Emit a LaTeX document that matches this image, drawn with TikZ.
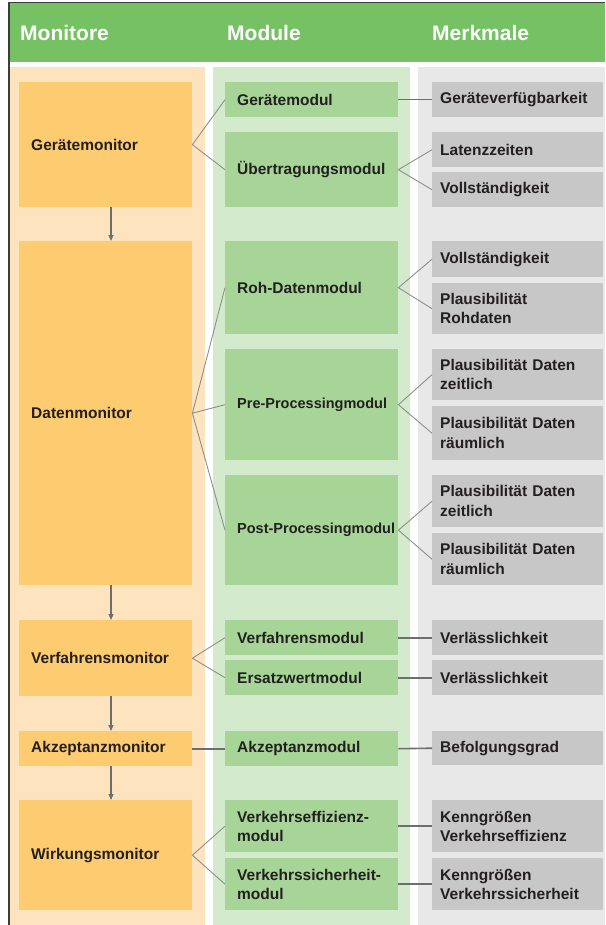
\documentclass[tikz,border=0pt]{standalone}
\usepackage{fontspec}
\setmainfont{Liberation Sans}
\usetikzlibrary{arrows.meta}

\definecolor{headgreen}{HTML}{75C163}
\definecolor{monbg}{HTML}{FDE4BF}
\definecolor{monbox}{HTML}{FDCB70}
\definecolor{modbg}{HTML}{D3EBCC}
\definecolor{modbox}{HTML}{A7D598}
\definecolor{mkbg}{HTML}{E8E8E8}
\definecolor{mkbox}{HTML}{C7C7C7}
\definecolor{txt}{HTML}{231F20}
\definecolor{frame}{HTML}{3C3C3C}
\definecolor{linkgray}{HTML}{8E8E8E}
\definecolor{bargray}{HTML}{6E6E6E}

\tikzset{
  box/.style={anchor=north west, inner xsep=12pt, inner ysep=0pt,
    font=\bfseries\fontsize{15.5}{19.5}\selectfont, text=txt, align=left},
  mon/.style={box, fill=monbox, text width=149pt},
  mod/.style={box, fill=modbox, text width=149pt},
  mk/.style={box, fill=mkbox, inner xsep=8pt, text width=155pt},
  tight/.style={font=\bfseries\fontsize{14.5}{19.5}\selectfont},
  head/.style={anchor=west, inner sep=0pt, text=white,
    font=\bfseries\fontsize{21}{25}\selectfont},
  branch/.style={draw=linkgray, line width=0.9pt},
  bar/.style={draw=bargray, line width=1.6pt},
  flow/.style={draw=bargray, line width=1.1pt, -{Triangle[length=6pt,width=5pt]}}
}

\begin{document}
\begin{tikzpicture}[x=1pt,y=-1pt]
\useasboundingbox (0,0) rectangle (605,925);

% header band and column backgrounds
\fill[headgreen] (9,3) rectangle (605,62);
\fill[monbg] (9,67) rectangle (205,925);
\fill[modbg] (213,67) rectangle (410,925);
\fill[mkbg] (418,67) rectangle (605,925);
\draw[frame, line width=1.5pt] (8.75,925) -- (8.75,2.75) -- (605,2.75);

\node[head] (h1) at (20,33) {Monitore};
\node[head] (h2) at (227,33) {Module};
\node[head] (h3) at (432,33) {Merkmale};

% monitors
\node[mon, minimum height=125pt] (gm) at (19,82) {Gerätemonitor};
\node[mon, minimum height=344pt] (dm) at (19,241) {Datenmonitor};
\node[mon, minimum height=76pt]  (vm) at (19,620) {Verfahrensmonitor};
\node[mon, minimum height=35pt]  (am) at (19,731) {Akzeptanzmonitor};
\node[mon, minimum height=110pt] (wm) at (19,800) {Wirkungsmonitor};

% modules
\node[mod, minimum height=35pt]  (m1) at (225,82)  {Gerätemodul};
\node[mod, minimum height=75pt]  (m2) at (225,132) {Übertragungsmodul};
\node[mod, minimum height=93pt]  (m3) at (225,241) {Roh-Datenmodul};
\node[mod, tight, minimum height=111pt] (m4) at (225,349) {\mbox{Pre-Processingmodul}};
\node[mod, tight, minimum height=110pt] (m5) at (225,475) {\mbox{Post-Processingmodul}};
\node[mod, minimum height=35pt]  (m6) at (225,620) {Verfahrensmodul};
\node[mod, minimum height=35pt]  (m7) at (225,660) {Ersatzwertmodul};
\node[mod, minimum height=35pt]  (m8) at (225,731) {Akzeptanzmodul};
\node[mod, minimum height=52pt]  (m9) at (225,800) {Verkehrseffizienz-\\modul};
\node[mod, minimum height=52pt]  (m10) at (225,858) {Verkehrssicherheit-\\modul};

% features
\node[mk, minimum height=35pt] (k1)  at (432,82)  {Geräteverfügbarkeit};
\node[mk, minimum height=35pt] (k2)  at (432,132) {Latenzzeiten};
\node[mk, minimum height=35pt] (k3)  at (432,172) {Vollständigkeit};
\node[mk, minimum height=36pt] (k4)  at (432,241) {Vollständigkeit};
\node[mk, minimum height=51pt] (k5)  at (432,283) {Plausibilität\\Rohdaten};
\node[mk, minimum height=51pt] (k6)  at (432,349) {Plausibilität Daten\\zeitlich};
\node[mk, minimum height=54pt] (k7)  at (432,406) {Plausibilität Daten\\räumlich};
\node[mk, minimum height=52pt] (k8)  at (432,475) {Plausibilität Daten\\zeitlich};
\node[mk, minimum height=52pt] (k9)  at (432,533) {Plausibilität Daten\\räumlich};
\node[mk, minimum height=35pt] (k10) at (432,620) {Verlässlichkeit};
\node[mk, minimum height=35pt] (k11) at (432,660) {Verlässlichkeit};
\node[mk, minimum height=34pt] (k12) at (432,731) {Befolgungsgrad};
\node[mk, minimum height=52pt] (k13) at (432,800) {Kenngrößen\\Verkehrseffizienz};
\node[mk, minimum height=52pt] (k14) at (432,858) {Kenngrößen\\Verkehrssicherheit};

% flow between monitors
\coordinate (ax) at (111,0);
\draw[flow] (gm.south -| ax) -- (dm.north -| ax);
\draw[flow] (dm.south -| ax) -- (vm.north -| ax);
\draw[flow] (vm.south -| ax) -- (am.north -| ax);
\draw[flow] (am.south -| ax) -- (wm.north -| ax);

% monitor to module branches
\draw[branch] (m1.west) -- (gm.east) -- (m2.west);
\draw[branch] (m3.west) -- (dm.east) -- (m5.west);
\draw[branch] (dm.east) -- (m4.west);
\draw[branch] (m6.west) -- (vm.east) -- (m7.west);
\draw[branch] (m9.west) -- (wm.east) -- (m10.west);
\draw[bar] (am.east) -- (m8.west);

% module to feature links
\draw[bar] (m1.east) -- (k1.west);
\draw[branch] (k2.west) -- (m2.east) -- (k3.west);
\draw[branch] (k4.west) -- (m3.east) -- (k5.west);
\draw[branch] (k6.west) -- (m4.east) -- (k7.west);
\draw[branch] (k8.west) -- (m5.east) -- (k9.west);
\draw[bar] (m6.east) -- (k10.west);
\draw[bar] (m7.east) -- (k11.west);
\draw[bar] (m8.east) -- (k12.west);
\draw[bar] (m9.east) -- (k13.west);
\draw[bar] (m10.east) -- (k14.west);
\end{tikzpicture}
\end{document}
